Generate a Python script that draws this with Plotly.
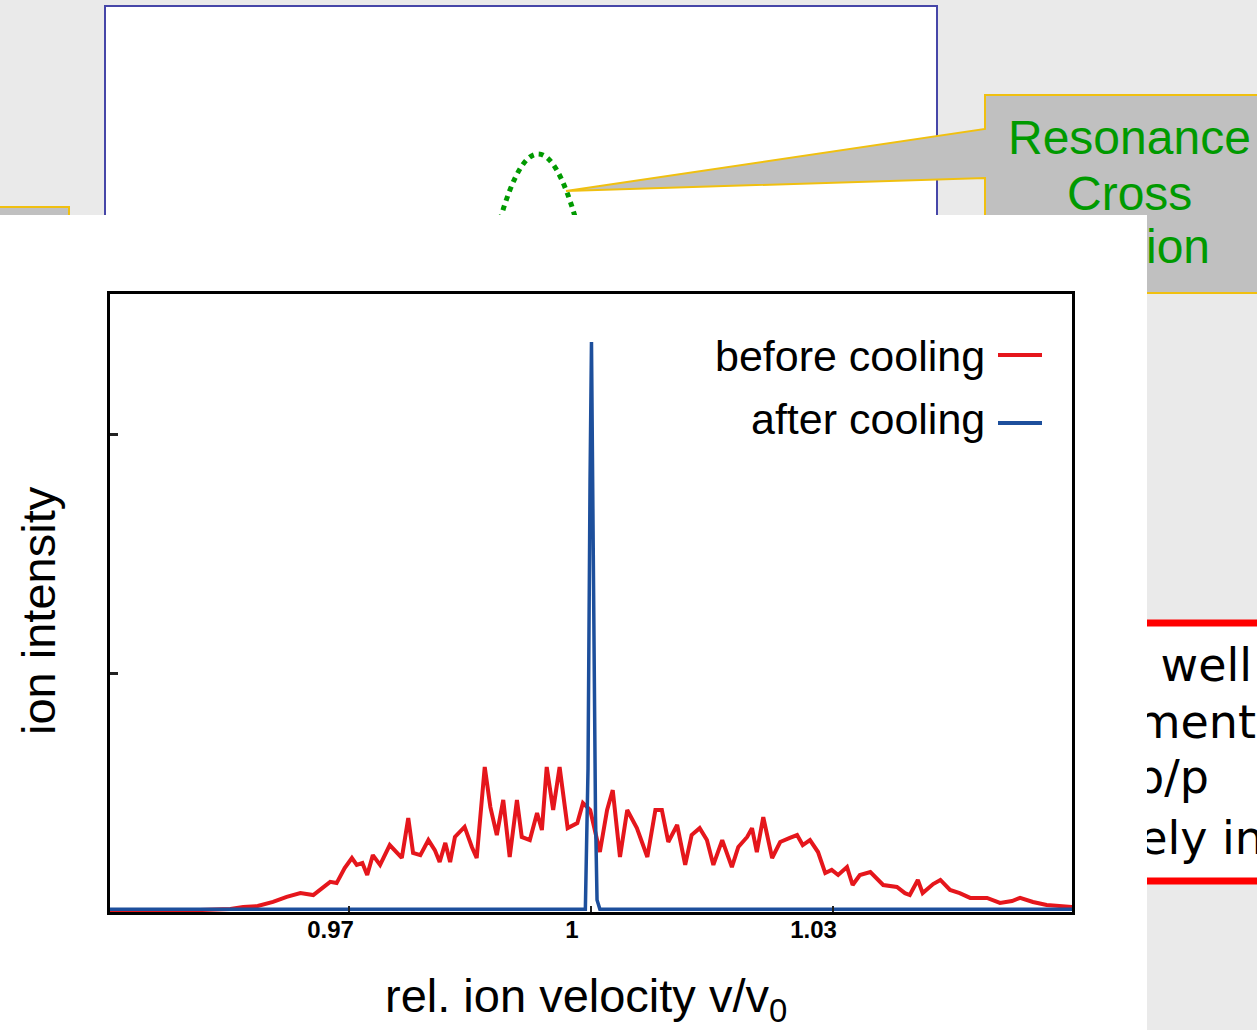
import plotly.graph_objects as go

W, H = 1257, 1030

# ---------------- data ----------------
velocity_before = [0.9402, 0.9452, 0.9514, 0.9552, 0.9568, 0.9586, 0.9605, 0.9622, 0.9639, 0.9655,
                   0.9666, 0.9676, 0.9684, 0.9694, 0.9703, 0.9709, 0.9716, 0.9722, 0.9729, 0.9738,
                   0.9750, 0.9759, 0.9765, 0.9773, 0.9779, 0.9788, 0.9798, 0.9806, 0.9812, 0.9819,
                   0.9825, 0.9831, 0.9843, 0.9852, 0.9858, 0.9868, 0.9875, 0.9883, 0.9891, 0.9899,
                   0.9908, 0.9914, 0.9924, 0.9933, 0.9939, 0.9945, 0.9953, 0.9961, 0.9971, 0.9983,
                   0.9990, 0.9999, 1.0011, 1.0020, 1.0027, 1.0036, 1.0045, 1.0057, 1.0070, 1.0080,
                   1.0088, 1.0096, 1.0107, 1.0117, 1.0125, 1.0135, 1.0144, 1.0152, 1.0163, 1.0175,
                   1.0183, 1.0194, 1.0200, 1.0206, 1.0214, 1.0225, 1.0235, 1.0247, 1.0256, 1.0263,
                   1.0272, 1.0282, 1.0291, 1.0299, 1.0307, 1.0318, 1.0325, 1.0334, 1.0347, 1.0363,
                   1.0380, 1.0390, 1.0396, 1.0406, 1.0412, 1.0425, 1.0434, 1.0446, 1.0458, 1.0471,
                   1.0492, 1.0508, 1.0523, 1.0533, 1.0549, 1.0566, 1.0598]
intensity_before = [0.006, 0.006, 0.008, 0.013, 0.021, 0.025, 0.042, 0.063, 0.079, 0.071,
                    0.100, 0.126, 0.121, 0.184, 0.226, 0.197, 0.205, 0.155, 0.238, 0.197,
                    0.280, 0.251, 0.226, 0.393, 0.247, 0.238, 0.301, 0.259, 0.209, 0.289,
                    0.209, 0.314, 0.356, 0.272, 0.226, 0.607, 0.439, 0.322, 0.469, 0.230,
                    0.469, 0.314, 0.301, 0.414, 0.343, 0.607, 0.427, 0.607, 0.351, 0.372,
                    0.456, 0.427, 0.251, 0.427, 0.510, 0.230, 0.427, 0.351, 0.230, 0.427,
                    0.427, 0.293, 0.364, 0.197, 0.322, 0.351, 0.301, 0.197, 0.301, 0.188,
                    0.272, 0.314, 0.351, 0.251, 0.397, 0.226, 0.293, 0.310, 0.322, 0.280,
                    0.301, 0.251, 0.163, 0.176, 0.155, 0.188, 0.113, 0.155, 0.167, 0.113,
                    0.105, 0.079, 0.071, 0.134, 0.079, 0.117, 0.134, 0.092, 0.079, 0.059,
                    0.059, 0.038, 0.046, 0.059, 0.042, 0.029, 0.021]

velocity_after = [0.9402, 0.9600, 0.9800, 0.9950, 0.9993, 0.99963, 0.99975, 0.99988, 1.00006,
                  1.00019, 1.00031, 1.00043, 1.00056, 1.00075, 1.0011, 1.0200, 1.0400, 1.0598]
intensity_after = [0.012, 0.012, 0.012, 0.012, 0.012, 0.60, 1.35, 1.80, 2.385,
                   1.82, 1.50, 0.95, 0.40, 0.05, 0.012, 0.012, 0.012, 0.012]

x_ticks = [0.97, 1.0, 1.03]
x_tick_labels = ["0.97", "1", "1.03"]
y_ticks = [1, 2]
series_names = ["before cooling", "after cooling"]
x_title = "rel. ion velocity v/v<sub>0</sub>"
y_title = "ion intensity"
callout_lines = ["Resonance", "Cross", "Section"]
side_lines = ["as well", "experiment", "Δp/p", "completely in"]

RED = "#e5161c"
BLUE = "#1d4f9c"
GREEN = "#009a00"
GRAY_BG = "#eaeaea"
CALLOUT = "#c0c0c0"
YELLOW = "#f0c010"
SANS = "Liberation Sans, Arial, Helvetica, sans-serif"
VERD = "DejaVu Sans, Verdana, sans-serif"


def px(x):
    return x / W


def py(y):
    return 1 - y / H


def P(x, y):
    return f"{px(x):.5f},{py(y):.5f}"


def poly(pts):
    return "M " + " L ".join(P(*p) for p in pts) + " Z"


fig = go.Figure()

# main chart traces
fig.add_trace(go.Scatter(x=velocity_before, y=intensity_before, mode="lines",
                         name=series_names[0], line=dict(color=RED, width=4),
                         showlegend=False, xaxis="x", yaxis="y"))
fig.add_trace(go.Scatter(x=velocity_after, y=intensity_after, mode="lines",
                         name=series_names[1], line=dict(color=BLUE, width=3.5),
                         showlegend=False, xaxis="x", yaxis="y"))

# clipped text in right column (partially hidden slide text)
fig.add_trace(go.Scatter(
    x=[1130, 1252, 1256, 1209, 1264],
    y=[251, 669, 726, 781, 842],
    mode="text",
    text=[callout_lines[2]] + side_lines,
    textposition=["middle center", "middle left", "middle left", "middle left", "middle left"],
    textfont=dict(family=[SANS, VERD, VERD, VERD, VERD], size=[48, 46, 46, 46, 46],
                  color=[GREEN, "black", "black", "black", "black"]),
    cliponaxis=True, showlegend=False, hoverinfo="skip",
    xaxis="x3", yaxis="y3"))

shapes = []
# top slide frame
shapes.append(dict(type="rect", xref="paper", yref="paper", x0=px(105), x1=px(937),
                   y0=py(250), y1=py(6), fillcolor="white", line=dict(color="#4646a8", width=2),
                   layer="below"))
# green dotted resonance arc
shapes.append(dict(type="path", xref="paper", yref="paper",
                   path=f"M {P(500, 220)} Q {P(538, 88)} {P(576, 220)}",
                   line=dict(color=GREEN, width=5, dash="5px,5px"), layer="below"))
# callout
shapes.append(dict(type="path", xref="paper", yref="paper",
                   path=poly([(985, 95), (1270, 95), (1270, 293), (985, 293), (985, 178),
                              (566, 191), (985, 129)]),
                   fillcolor=CALLOUT, line=dict(color=YELLOW, width=2), layer="below"))
# small left callout
shapes.append(dict(type="rect", xref="paper", yref="paper", x0=px(-10), x1=px(69),
                   y0=py(250), y1=py(207), fillcolor=CALLOUT, line=dict(color=YELLOW, width=2),
                   layer="below"))
# white panel holding the chart
shapes.append(dict(type="rect", xref="paper", yref="paper", x0=px(0), x1=px(1147),
                   y0=py(1030), y1=py(215), fillcolor="white", line=dict(width=0),
                   layer="below"))
# right text box with red rules
shapes.append(dict(type="rect", xref="paper", yref="paper", x0=px(1147), x1=px(1260),
                   y0=py(881), y1=py(623), fillcolor="white", line=dict(width=0),
                   layer="below"))
for yy in (623, 881):
    shapes.append(dict(type="line", xref="paper", yref="paper", x0=px(1147), x1=px(1260),
                       y0=py(yy), y1=py(yy), line=dict(color="#ff0000", width=7),
                       layer="below"))
# custom legend line samples
shapes.append(dict(type="line", xref="paper", yref="paper", x0=px(998), x1=px(1042),
                   y0=py(355), y1=py(355), line=dict(color=RED, width=4)))
shapes.append(dict(type="line", xref="paper", yref="paper", x0=px(998), x1=px(1042),
                   y0=py(423), y1=py(423), line=dict(color=BLUE, width=4)))

annotations = [
    dict(text=callout_lines[0], x=px(1129), y=py(137), xref="paper", yref="paper",
         showarrow=False, font=dict(family=SANS, size=48, color=GREEN), xanchor="center",
         yanchor="middle"),
    dict(text=callout_lines[1], x=px(1129), y=py(194), xref="paper", yref="paper",
         showarrow=False, font=dict(family=SANS, size=48, color=GREEN), xanchor="center",
         yanchor="middle"),
    dict(text=series_names[0], x=px(987), y=py(356), xref="paper", yref="paper",
         showarrow=False, font=dict(family=SANS, size=43, color="black"), xanchor="right",
         yanchor="middle"),
    dict(text=series_names[1], x=px(987), y=py(419), xref="paper", yref="paper",
         showarrow=False, font=dict(family=SANS, size=43, color="black"), xanchor="right",
         yanchor="middle"),
    dict(text=x_title, x=px(586), y=py(999), xref="paper", yref="paper",
         showarrow=False, font=dict(family=SANS, size=47, color="black"), xanchor="center",
         yanchor="middle"),
    dict(text=y_title, x=px(38), y=py(611), xref="paper", yref="paper", textangle=-90,
         showarrow=False, font=dict(family=SANS, size=47, color="black"), xanchor="center",
         yanchor="middle"),
]

fig.update_layout(
    width=W, height=H, autosize=False,
    margin=dict(l=0, r=0, t=0, b=0),
    paper_bgcolor=GRAY_BG, plot_bgcolor="rgba(0,0,0,0)",
    shapes=shapes, annotations=annotations, showlegend=False,
    xaxis=dict(domain=[px(110), px(1072)], range=[0.94025, 1.05975],
               showline=True, mirror=True, linecolor="black", linewidth=3,
               showgrid=False, zeroline=False, ticks="inside", ticklen=6, tickwidth=2,
               tickcolor="#222", tickvals=x_ticks, ticktext=x_tick_labels,
               tickfont=dict(family=SANS, size=24, color="black", weight="bold"),
               ticklabelshift=-19, ticklabelstandoff=-6, fixedrange=True, anchor="y"),
    yaxis=dict(domain=[py(912), py(294)], range=[0, 2.586],
               showline=True, mirror=True, linecolor="black", linewidth=3,
               showgrid=False, zeroline=False, ticks="inside", ticklen=8, tickwidth=2.5,
               tickcolor="#222", tickvals=y_ticks, showticklabels=False,
               fixedrange=True, anchor="x"),
    xaxis3=dict(domain=[px(1147), 1], range=[1147, 1257], visible=False,
                fixedrange=True, anchor="y3"),
    yaxis3=dict(domain=[0, py(215)], range=[1030, 215], visible=False,
                fixedrange=True, anchor="x3"),
)

fig.write_html("out.html", config={"displayModeBar": False},
               post_script="document.body.style.margin='0';document.body.style.padding='0';")
